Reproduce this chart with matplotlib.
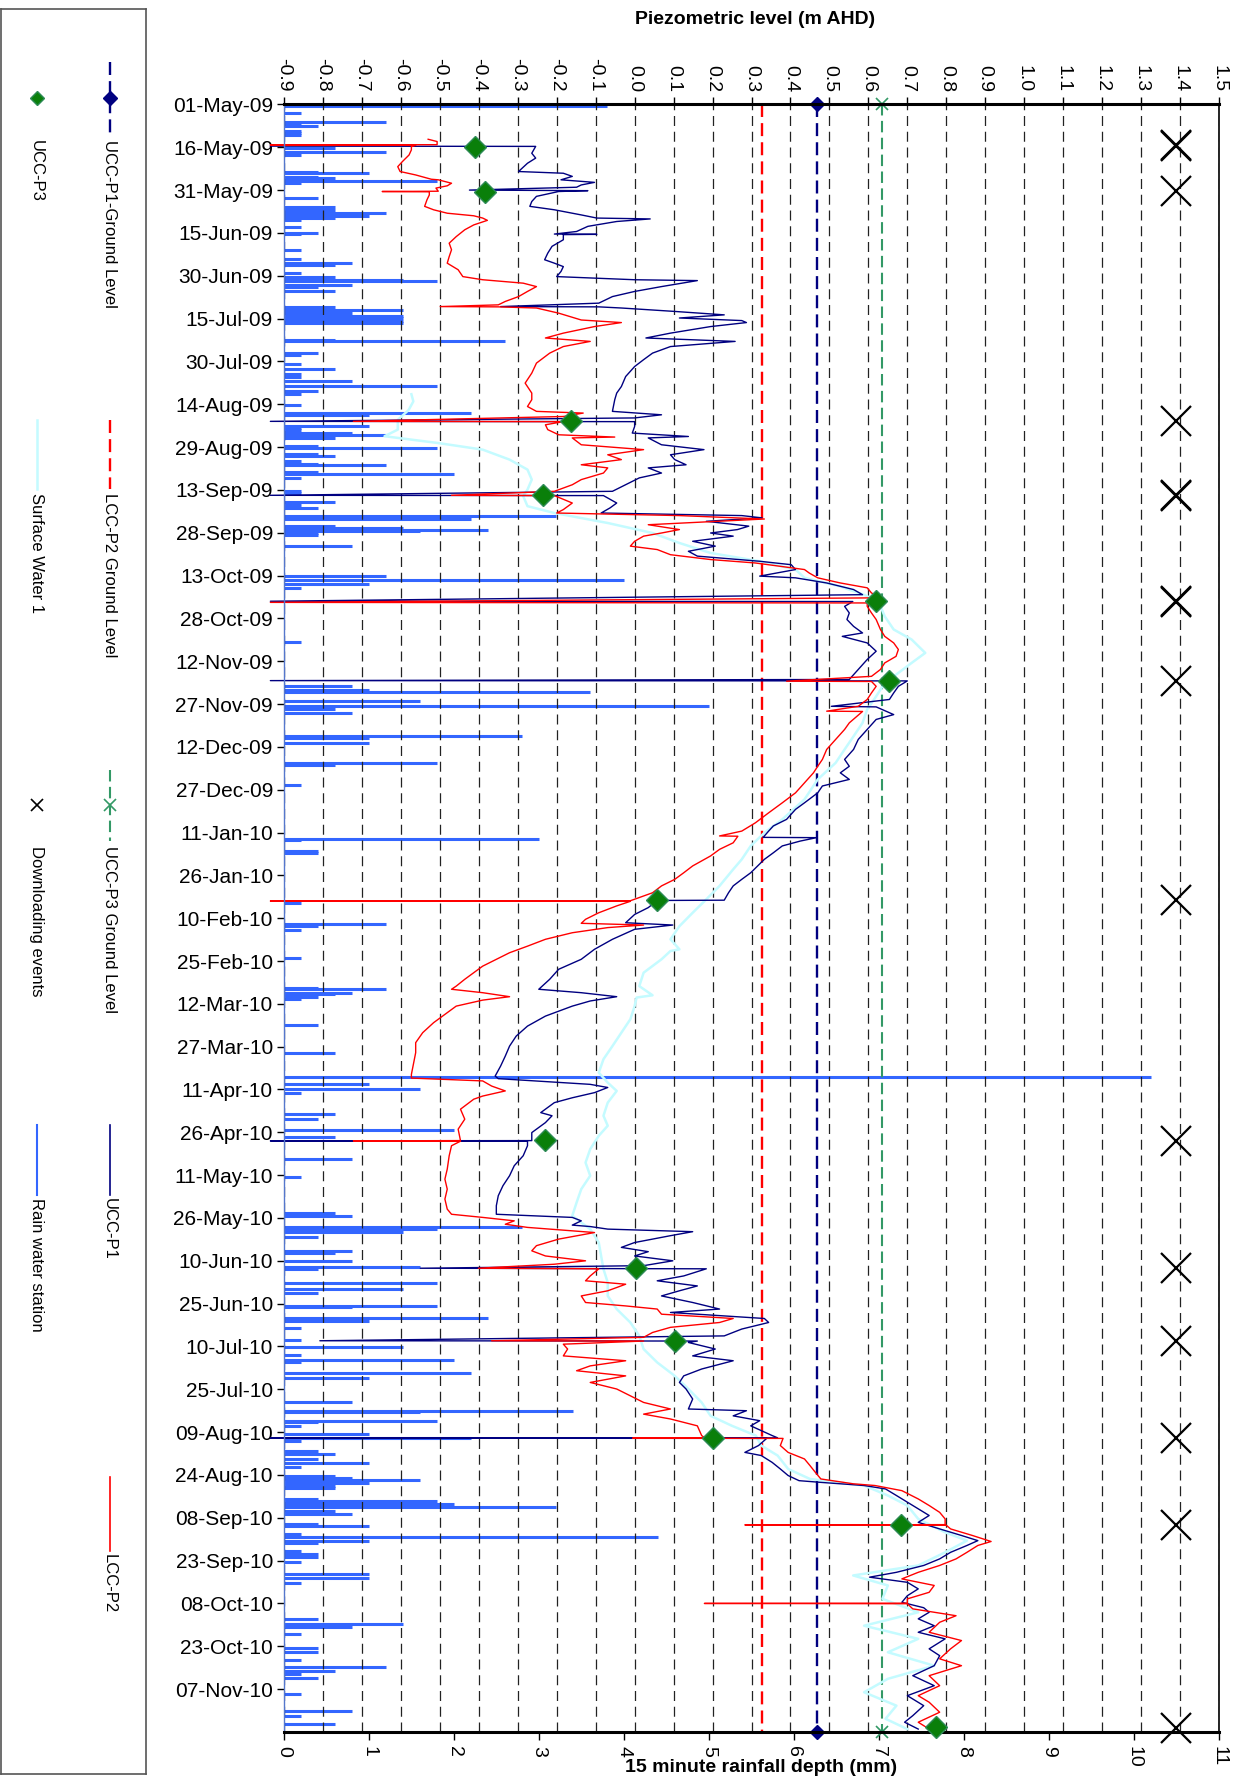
import datetime as dt

import matplotlib
matplotlib.use("Agg")
import matplotlib.pyplot as plt
import numpy as np

plt.rcParams['font.family'] = ['Liberation Sans', 'DejaVu Sans']
plt.rcParams['axes.unicode_minus'] = False

# time axis runs downwards, in days after 1 May 2009
START = dt.date(2009, 5, 1)
END_DAY = 570
TICK_STEP = 15

# ground levels (m AHD)
LCC_P2_GROUND = 0.327
UCC_P1_GROUND = 0.468
UCC_P3_GROUND = 0.636
EVENT_LEVEL = 1.39          # column where downloading events are marked

piezo_ticks = [i / 10 for i in range(-9, 16)]
rain_ticks = list(range(0, 12))

# (day, level m AHD)
ucc_p1 = [
    (14.6, -0.935), (14.7, -0.254), (17.1, -0.264), (18.8, -0.254), (20.6, -0.275), (23.5, -0.298),
    (24.1, -0.183), (25.2, -0.160), (26.4, -0.189), (27.3, -0.103), (28.2, -0.137), (29.0, -0.149),
    (30.0, -0.424), (30.2, -0.120), (30.5, -0.195), (32.2, -0.252), (34.0, -0.264), (35.7, -0.269),
    (36.9, -0.206), (38.7, -0.137), (39.8, -0.097), (40.1, 0.040), (41.0, -0.046), (42.7, -0.120),
    (44.5, -0.149), (45.4, -0.206), (45.5, -0.097), (45.6, -0.183), (47.4, -0.183), (49.7, -0.212),
    (52.1, -0.223), (54.4, -0.231), (55.6, -0.206), (56.8, -0.183), (58.5, -0.189), (60.3, -0.200),
    (61.4, 0.000), (61.7, 0.161), (63.8, 0.069), (65.5, 0.000), (67.3, -0.057), (69.6, -0.092),
    (70.8, -0.344), (70.9, -0.092), (71.3, -0.034), (72.5, 0.103), (73.7, 0.230), (74.8, 0.115),
    (75.7, 0.275), (76.4, 0.287), (77.8, 0.195), (80.1, 0.092), (81.8, 0.029), (83.0, 0.258),
    (84.8, 0.092), (87.1, 0.046), (89.4, 0.023), (91.8, 0.000), (95.3, -0.023), (98.8, -0.034),
    (101.1, -0.046), (103.4, -0.051), (107.5, -0.057), (108.7, 0.069), (109.8, 0.000), (111.0, -0.935),
    (111.1, 0.000), (112.8, 0.000), (115.1, -0.006), (116.3, 0.138), (116.8, 0.035), (119.2, 0.069),
    (120.9, 0.178), (122.7, 0.092), (124.4, 0.103), (126.2, 0.132), (127.3, 0.035), (129.1, 0.069),
    (130.8, 0.012), (133.2, -0.023), (135.5, -0.057), (136.9, -0.935), (137.0, -0.080), (139.6, -0.046),
    (141.3, -0.063), (143.1, -0.086), (144.0, 0.275), (144.8, 0.327), (146.0, 0.184), (147.7, 0.293),
    (148.9, 0.264), (150.1, 0.195), (151.2, 0.253), (153.0, 0.149), (154.7, 0.207), (156.5, 0.138),
    (158.2, 0.161), (160.0, 0.321), (161.2, 0.402), (162.9, 0.413), (165.2, 0.321), (165.8, 0.413),
    (167.6, 0.493), (169.9, 0.562), (171.7, 0.585), (174.0, -0.935), (174.1, 0.560), (175.8, 0.539),
    (178.1, 0.551), (180.4, 0.545), (182.8, 0.562), (185.1, 0.585), (186.3, 0.533), (188.6, 0.597),
    (191.5, 0.620), (194.4, 0.597), (197.9, 0.574), (201.4, 0.551), (201.8, -0.935), (201.9, 0.700),
    (203.8, 0.677), (206.1, 0.665), (208.4, 0.654), (210.8, 0.505), (211.0, 0.620), (213.7, 0.665),
    (215.4, 0.620), (218.9, 0.597), (222.4, 0.574), (225.9, 0.562), (229.4, 0.539), (231.8, 0.551),
    (234.1, 0.528), (236.4, 0.551), (238.7, 0.482), (241.1, 0.470), (244.6, 0.436), (246.9, 0.413),
    (250.4, 0.390), (252.7, 0.356), (254.5, 0.344), (256.7, 0.330), (256.8, 0.467), (258.0, 0.425),
    (259.7, 0.379), (262.1, 0.356), (264.4, 0.333), (266.7, 0.316), (269.1, 0.298), (271.4, 0.275),
    (273.7, 0.253), (276.1, 0.241), (278.7, 0.230), (278.8, 0.058), (281.3, 0.035), (283.7, 0.000),
    (286.6, -0.023), (287.4, 0.098), (288.9, 0.000), (292.4, -0.057), (295.9, -0.103), (299.4, -0.137),
    (302.9, -0.195), (306.4, -0.218), (309.9, -0.246), (311.1, -0.137), (312.5, -0.046), (314.0, -0.114),
    (315.8, -0.160), (319.3, -0.229), (322.8, -0.275), (326.3, -0.304), (329.8, -0.321), (333.3, -0.332),
    (336.8, -0.344), (340.3, -0.358), (341.2, -0.350), (343.2, -0.114), (344.3, -0.069), (346.1, -0.103),
    (347.9, -0.160), (349.6, -0.206), (353.1, -0.241), (354.2, -0.212), (356.6, -0.229), (360.1, -0.264),
    (362.9, -0.264), (363.0, -0.935), (363.1, -0.275), (364.7, -0.275), (368.2, -0.286), (371.7, -0.309),
    (375.2, -0.321), (378.7, -0.338), (382.2, -0.350), (385.7, -0.355), (388.7, -0.355), (389.8, -0.160),
    (391.0, -0.137), (392.5, -0.160), (393.0, -0.114), (393.9, -0.069), (394.8, 0.149), (396.2, 0.092),
    (398.6, 0.000), (400.3, -0.034), (401.8, 0.035), (403.3, 0.000), (405.0, 0.098), (406.7, 0.023),
    (407.6, -0.550), (407.8, 0.184), (410.3, 0.126), (412.0, 0.058), (413.8, 0.161), (415.5, 0.115),
    (417.3, 0.069), (419.6, 0.149), (421.9, 0.218), (423.1, 0.092), (425.2, 0.333), (426.6, 0.344),
    (428.9, 0.275), (431.3, 0.230), (433.0, -0.808), (433.1, 0.161), (433.6, 0.138), (435.9, 0.207),
    (438.3, 0.149), (440.0, 0.253), (442.9, 0.172), (445.3, 0.126), (447.6, 0.115), (449.9, 0.132),
    (453.4, 0.149), (456.9, 0.138), (457.5, 0.287), (459.3, 0.253), (461.0, 0.321), (462.8, 0.298),
    (466.2, 0.353), (467.0, 0.367), (467.1, -0.935), (467.2, 0.339), (469.7, 0.318), (472.1, 0.283),
    (473.2, 0.325), (475.6, 0.353), (477.9, 0.374), (480.2, 0.394), (482.0, 0.422), (482.6, 0.478),
    (483.7, 0.589), (484.9, 0.644), (487.2, 0.672), (490.7, 0.714), (494.2, 0.756), (496.6, 0.728),
    (498.9, 0.783), (501.2, 0.839), (503.0, 0.881), (504.7, 0.853), (507.1, 0.811), (509.4, 0.783),
    (511.7, 0.742), (514.1, 0.672), (515.8, 0.603), (517.6, 0.700), (519.9, 0.728), (522.3, 0.700),
    (524.6, 0.686), (526.5, 0.742), (528.1, 0.756), (530.4, 0.728), (532.8, 0.769), (535.1, 0.728),
    (537.4, 0.797), (540.9, 0.756), (543.3, 0.783), (546.8, 0.769), (550.3, 0.714), (553.8, 0.769),
    (557.3, 0.700), (560.8, 0.742), (564.3, 0.714), (566.6, 0.693), (569.0, 0.728),
]

lcc_p2 = [
    (12.2, -0.530), (13.0, -0.507), (14.1, -0.507), (14.2, -0.935), (14.3, -0.562), (14.8, -0.573),
    (15.9, -0.573), (17.7, -0.579), (20.0, -0.596), (21.8, -0.608), (23.5, -0.602), (24.7, -0.562),
    (26.2, -0.522), (26.4, -0.504), (27.6, -0.470), (28.5, -0.481), (29.3, -0.510), (30.4, -0.504),
    (30.5, -0.648), (30.6, -0.527), (31.7, -0.527), (33.4, -0.533), (35.7, -0.539), (36.9, -0.516),
    (38.1, -0.481), (39.0, -0.413), (39.8, -0.390), (40.6, -0.378), (42.2, -0.413), (43.9, -0.436),
    (46.3, -0.458), (48.6, -0.476), (50.9, -0.470), (53.3, -0.476), (55.6, -0.481), (57.9, -0.453),
    (60.3, -0.441), (61.4, -0.390), (62.6, -0.286), (63.8, -0.252), (65.5, -0.275), (67.3, -0.298),
    (69.0, -0.332), (70.2, -0.350), (70.8, -0.499), (70.9, -0.350), (71.3, -0.252), (73.1, -0.195),
    (75.5, -0.137), (76.4, -0.034), (77.8, -0.103), (80.1, -0.183), (81.8, -0.229), (83.0, -0.114),
    (84.8, -0.183), (87.1, -0.218), (90.6, -0.252), (94.1, -0.264), (97.6, -0.281), (101.1, -0.264),
    (103.4, -0.264), (105.8, -0.275), (107.5, -0.252), (108.1, -0.132), (109.3, -0.183), (111.0, -0.722),
    (111.1, -0.183), (112.2, -0.229), (113.9, -0.223), (115.7, -0.195), (116.5, -0.051), (116.8, -0.160),
    (119.2, -0.137), (120.9, 0.023), (122.7, -0.069), (124.4, -0.034), (126.2, -0.137), (127.3, -0.069),
    (129.1, -0.080), (131.4, -0.137), (133.2, -0.160), (135.5, -0.206), (136.9, -0.470), (137.0, -0.206),
    (139.6, -0.160), (141.9, -0.183), (143.1, -0.200), (144.0, 0.115), (145.2, 0.333), (147.2, 0.035),
    (148.9, 0.115), (150.1, 0.069), (151.2, 0.023), (153.0, 0.000), (154.7, -0.011), (155.9, 0.058),
    (157.7, 0.092), (159.4, 0.195), (160.6, 0.310), (162.9, 0.436), (164.1, 0.448), (165.8, 0.470),
    (167.6, 0.528), (169.3, 0.597), (171.1, 0.608), (172.8, 0.631), (174.4, -0.935), (174.6, 0.597),
    (175.8, 0.597), (178.1, 0.608), (180.4, 0.620), (183.9, 0.631), (186.3, 0.642), (188.6, 0.665),
    (190.9, 0.677), (193.3, 0.671), (195.6, 0.642), (197.9, 0.631), (200.3, 0.608), (202.0, 0.390),
    (202.1, 0.608), (203.8, 0.620), (206.1, 0.608), (208.4, 0.597), (210.8, 0.574), (212.5, 0.493),
    (212.6, 0.585), (216.6, 0.551), (218.9, 0.539), (222.4, 0.516), (225.9, 0.493), (229.4, 0.482),
    (231.8, 0.470), (234.1, 0.459), (237.6, 0.436), (241.1, 0.413), (244.6, 0.379), (248.1, 0.344),
    (251.6, 0.310), (254.5, 0.275), (256.2, 0.218), (256.3, 0.265), (258.6, 0.253), (260.9, 0.218),
    (263.2, 0.195), (266.7, 0.149), (269.1, 0.126), (271.4, 0.103), (273.7, 0.069), (276.1, 0.046),
    (278.9, -0.011), (279.0, -0.935), (279.1, -0.011), (280.7, -0.046), (283.1, -0.092), (285.4, -0.126),
    (286.8, -0.137), (287.4, 0.023), (288.3, -0.069), (290.1, -0.160), (292.4, -0.229), (294.8, -0.275),
    (297.1, -0.321), (299.4, -0.355), (301.8, -0.390), (304.1, -0.413), (306.4, -0.436), (308.8, -0.458),
    (309.9, -0.470), (311.1, -0.390), (312.5, -0.321), (313.7, -0.390), (315.8, -0.458), (318.1, -0.481),
    (321.6, -0.516), (325.1, -0.544), (328.6, -0.562), (332.1, -0.562), (335.6, -0.567), (339.7, -0.573),
    (341.0, -0.573), (342.0, -0.390), (343.8, -0.367), (345.5, -0.332), (347.3, -0.390), (348.4, -0.413),
    (351.9, -0.447), (355.4, -0.436), (358.9, -0.453), (362.9, -0.447), (363.0, -0.722), (363.1, -0.447),
    (364.7, -0.470), (368.2, -0.476), (372.9, -0.481), (376.4, -0.487), (379.9, -0.481), (383.4, -0.487),
    (386.9, -0.481), (388.7, -0.470), (389.8, -0.390), (391.0, -0.309), (392.2, -0.332), (393.3, -0.275),
    (395.1, -0.103), (397.4, -0.195), (399.7, -0.252), (401.5, -0.264), (403.3, -0.229), (405.0, -0.126),
    (406.2, -0.206), (407.6, -0.401), (407.8, -0.092), (410.3, -0.114), (412.0, -0.126), (413.2, -0.023),
    (415.5, -0.069), (417.3, -0.137), (419.6, -0.126), (420.8, -0.023), (421.9, 0.058), (423.7, 0.069),
    (425.2, 0.253), (426.6, 0.218), (428.3, 0.092), (430.1, 0.046), (431.8, 0.023), (433.0, -0.367),
    (433.1, 0.023), (434.2, -0.183), (435.9, -0.172), (438.3, -0.183), (440.0, -0.023), (441.8, -0.114),
    (443.5, -0.149), (445.3, -0.023), (447.6, -0.114), (449.9, -0.046), (452.3, -0.011), (454.6, 0.023),
    (456.9, 0.092), (458.7, 0.023), (460.4, 0.092), (462.8, 0.161), (466.2, 0.172), (467.0, 0.180),
    (467.1, -0.005), (467.2, 0.381), (469.7, 0.374), (472.1, 0.394), (474.4, 0.436), (476.7, 0.450),
    (479.1, 0.464), (481.4, 0.478), (483.1, 0.561), (483.7, 0.617), (485.5, 0.686), (488.4, 0.728),
    (490.7, 0.756), (493.1, 0.783), (495.4, 0.797), (497.4, 0.797), (497.5, 0.283), (497.6, 0.800),
    (498.9, 0.811), (501.2, 0.867), (503.3, 0.915), (504.7, 0.881), (507.1, 0.853), (509.4, 0.825),
    (511.7, 0.783), (514.1, 0.728), (516.4, 0.686), (518.7, 0.769), (521.1, 0.756), (523.4, 0.700),
    (524.9, 0.700), (525.0, 0.179), (525.1, 0.700), (526.9, 0.714), (529.3, 0.825), (531.6, 0.783),
    (535.1, 0.756), (538.0, 0.839), (540.9, 0.811), (544.4, 0.783), (546.8, 0.839), (550.3, 0.756),
    (553.8, 0.783), (557.3, 0.728), (559.6, 0.756), (563.1, 0.783), (566.6, 0.728), (569.0, 0.756),
]

surface_water = [
    (101.5, -0.573), (104.0, -0.568), (107.0, -0.580), (110.5, -0.608), (113.9, -0.608), (116.2, -0.642),
    (118.6, -0.504), (120.9, -0.390), (124.4, -0.321), (127.9, -0.275), (131.4, -0.264), (134.9, -0.275),
    (137.2, -0.286), (140.7, -0.275), (143.1, -0.206), (146.6, -0.069), (150.1, 0.046), (153.6, 0.115),
    (157.1, 0.195), (160.0, 0.321), (162.9, 0.413), (165.8, 0.436), (168.8, 0.528), (172.2, 0.597),
    (175.7, 0.631), (179.3, 0.642), (183.9, 0.665), (187.4, 0.711), (192.1, 0.746), (195.6, 0.711),
    (199.1, 0.677), (202.6, 0.642), (207.3, 0.620), (211.9, 0.597), (216.6, 0.585), (221.3, 0.562),
    (225.9, 0.539), (230.6, 0.516), (236.4, 0.470), (243.4, 0.436), (250.4, 0.379), (255.1, 0.333),
    (259.7, 0.298), (264.4, 0.275), (267.9, 0.253), (273.7, 0.218), (278.4, 0.184), (283.1, 0.149),
    (287.8, 0.115), (292.4, 0.092), (295.9, 0.115), (296.5, 0.092), (299.4, 0.069), (304.1, 0.023),
    (308.8, 0.012), (312.0, 0.046), (312.8, 0.005), (315.8, 0.000), (320.4, -0.011), (325.1, -0.034),
    (329.8, -0.057), (334.4, -0.080), (339.1, -0.092), (342.6, -0.069), (345.5, -0.046), (349.6, -0.069),
    (354.2, -0.080), (357.7, -0.069), (361.2, -0.092), (365.9, -0.114), (370.6, -0.126), (375.2, -0.114),
    (379.9, -0.137), (384.6, -0.149), (389.2, -0.160), (391.6, -0.137), (393.9, -0.114), (398.6, -0.092),
    (403.3, -0.086), (407.9, -0.080), (412.6, -0.069), (417.3, -0.069), (421.9, -0.046), (426.6, -0.011),
    (431.3, 0.012), (435.9, 0.023), (440.6, 0.058), (445.3, 0.103), (449.9, 0.138), (454.6, 0.172),
    (459.3, 0.195), (462.8, 0.250), (466.2, 0.311), (469.7, 0.325), (473.2, 0.367), (477.9, 0.394),
    (481.4, 0.450), (483.7, 0.589), (487.2, 0.650), (490.7, 0.700), (495.4, 0.728), (500.1, 0.797),
    (503.0, 0.853), (507.1, 0.797), (511.7, 0.728), (515.2, 0.561), (518.7, 0.650), (523.4, 0.636),
    (528.1, 0.728), (532.8, 0.589), (537.4, 0.728), (542.1, 0.650), (546.8, 0.769), (551.4, 0.650),
    (556.1, 0.589), (560.8, 0.672), (565.4, 0.644), (569.0, 0.700),
]

# manual UCC-P3 dips (day, level)
ucc_p3 = [
    (14.8, -0.409), (30.5, -0.384), (111.0, -0.163), (136.9, -0.235), (174.0, 0.620), (201.8, 0.654),
    (278.8, 0.058), (362.6, -0.229), (407.6, 0.003), (433.2, 0.103), (467.1, 0.200), (497.5, 0.683),
    (568.4, 0.774),
]

download_days = [14.2, 14.6, 30.2, 110.8, 136.7, 137.0, 174.0, 174.4, 202.0, 278.8, 362.9, 407.5,
                 433.0, 467.0, 497.4, 568.6]

# 15 minute rainfall (day, mm)
rain = [
    (0.5, 3.8), (2.9, 0.2), (6.0, 1.2), (6.6, 0.2), (7.5, 0.4), (9.2, 0.2), (9.9, 0.2), (10.7, 0.2),
    (15.3, 0.6), (16.5, 1.2), (17.7, 0.2), (23.5, 0.4), (24.1, 1.0), (25.3, 0.4), (25.8, 0.6),
    (26.8, 1.8), (27.4, 0.2), (32.6, 0.4), (36.0, 0.6), (36.9, 0.6), (37.9, 1.2), (38.3, 0.4),
    (39.0, 1.0), (39.9, 0.6), (40.4, 0.2), (43.1, 0.2), (44.9, 0.4), (45.3, 0.2), (50.9, 0.2),
    (54.2, 0.2), (55.4, 0.8), (56.2, 0.6), (58.9, 0.2), (60.6, 0.6), (61.4, 1.4), (61.8, 1.8),
    (63.2, 0.8), (64.1, 0.4), (65.5, 0.6), (71.0, 0.6), (71.9, 1.4), (73.1, 0.8), (74.0, 1.4),
    (74.9, 1.4), (75.4, 1.0), (76.0, 1.4), (76.6, 1.4), (82.4, 0.6), (83.0, 2.6), (87.1, 0.4),
    (87.7, 0.2), (90.9, 0.2), (92.5, 0.6), (94.4, 0.2), (95.3, 0.2), (96.7, 0.8), (98.6, 1.8),
    (100.5, 0.4), (101.3, 0.2), (105.2, 0.2), (108.1, 2.2), (108.7, 1.0), (112.6, 1.0), (113.4, 0.2),
    (114.0, 0.2), (115.1, 0.8), (115.7, 1.2), (116.9, 0.6), (119.7, 0.4), (120.3, 1.8), (122.3, 0.4),
    (123.2, 0.6), (125.0, 0.2), (125.9, 0.4), (126.4, 1.2), (128.8, 0.4), (129.4, 2.0), (130.8, 0.2),
    (135.5, 0.2), (136.1, 0.2), (139.2, 0.6), (140.2, 0.2), (141.3, 0.4), (144.0, 3.2), (144.8, 0.8),
    (145.2, 2.2), (147.5, 0.6), (148.3, 1.4), (148.9, 2.4), (149.5, 1.6), (150.1, 0.4), (150.7, 0.4),
    (154.7, 0.8), (165.2, 1.2), (166.4, 4.0), (167.9, 1.0), (169.3, 0.2), (188.4, 0.2), (203.8, 0.8),
    (205.2, 1.0), (205.9, 3.6), (209.0, 1.6), (210.8, 5.0), (211.7, 0.6), (213.3, 0.8), (221.3, 2.8),
    (221.8, 1.0), (223.6, 1.0), (230.6, 1.8), (231.2, 0.6), (238.2, 0.2), (257.1, 3.0), (257.6, 0.2),
    (261.5, 0.4), (262.1, 0.4), (279.6, 0.2), (287.2, 1.2), (287.8, 0.4), (289.2, 0.2), (299.1, 0.2),
    (309.3, 0.4), (309.9, 1.2), (311.1, 0.8), (311.7, 0.6), (312.5, 0.4), (313.2, 0.2), (322.5, 0.4),
    (332.1, 0.6), (340.6, 10.2), (343.2, 1.0), (344.9, 1.6), (346.1, 0.2), (353.7, 0.6), (355.2, 0.4),
    (359.1, 2.0), (361.6, 0.6), (369.2, 0.8), (375.5, 0.2), (388.3, 0.6), (389.2, 0.8), (393.0, 2.8),
    (393.9, 1.8), (394.8, 1.4), (396.5, 0.4), (401.5, 0.8), (402.3, 0.6), (405.0, 0.8), (407.3, 1.6),
    (407.9, 0.4), (412.6, 1.8), (414.7, 1.4), (416.3, 0.4), (420.8, 1.8), (421.3, 0.8), (425.1, 2.4),
    (426.2, 1.0), (428.6, 0.2), (432.7, 0.2), (435.3, 1.4), (437.9, 0.2), (439.7, 2.0), (440.4, 0.2),
    (444.4, 2.2), (446.2, 1.0), (454.6, 0.8), (457.5, 3.4), (457.9, 1.6), (461.0, 1.8), (461.6, 0.4),
    (463.0, 0.2), (465.7, 1.0), (467.1, 2.2), (468.0, 0.2), (471.5, 0.4), (472.7, 0.6), (474.4, 0.4),
    (475.8, 1.0), (477.3, 0.2), (480.2, 0.6), (481.2, 0.8), (481.8, 1.6), (482.9, 1.0), (483.7, 0.6),
    (484.6, 0.6), (488.4, 0.4), (489.0, 1.8), (490.2, 2.0), (491.3, 3.2), (492.5, 0.6), (493.7, 0.8),
    (497.2, 0.4), (498.0, 1.0), (500.7, 0.2), (501.8, 4.4), (503.0, 1.0), (503.8, 0.4), (506.5, 0.2),
    (507.7, 0.4), (508.8, 0.4), (510.6, 0.2), (514.7, 1.0), (516.2, 1.0), (517.8, 0.2), (530.4, 0.4),
    (532.2, 1.4), (533.3, 0.8), (535.7, 0.2), (540.7, 0.4), (542.1, 0.4), (544.7, 0.2), (547.3, 1.2),
    (548.5, 0.6), (549.7, 0.2), (551.2, 0.4), (556.7, 0.2), (562.5, 0.8), (564.3, 0.2), (567.2, 0.6),
]

NAVY = '#000080'
RED = '#ff0000'
CYAN = '#c4fbff'
RAIN = '#3366ff'
P3_GREEN = '#0a7f0a'
GL_GREEN = '#339966'
GRID_DASH = (0, (8, 4.6))
GL_DASH = (0, (5.5, 2.6))


def split(pairs):
    a = np.array(pairs, dtype=float)
    return a[:, 0], a[:, 1]


fig = plt.figure(figsize=(12.44, 17.82), dpi=100)
ax = fig.add_axes([0.2283, 0.0281, 0.7516, 0.9133])   # piezometric level, top scale
axr = ax.twiny()                                      # rainfall, bottom scale
ax.set_zorder(axr.get_zorder() + 1)
ax.patch.set_visible(False)

# rainfall bars
rd, rmm = split(rain)
axr.hlines(rd, 0, rmm, color=RAIN, lw=2.2)
axr.set_xlim(0, 11)
axr.set_xticks(rain_ticks)
axr.set_xticklabels([str(t) for t in rain_ticks])
axr.xaxis.set_ticks_position('bottom')
axr.tick_params(axis='x', labelrotation=-90, labelsize=14, length=6, width=1, pad=4)
for s in axr.spines.values():
    s.set_visible(False)

# piezometric scale and grid
ax.set_xlim(-0.9, 1.5)
ax.set_xticks(piezo_ticks)
ax.set_xticklabels([f'{v:.1f}' for v in piezo_ticks])
ax.xaxis.set_ticks_position('top')
ax.tick_params(axis='x', labelrotation=-90, labelsize=14, length=5, width=1, pad=4)
ax.grid(axis='x', color='#222222', lw=0.9, ls=GRID_DASH)

ax.set_ylim(END_DAY, 0)
tick_days = list(range(0, END_DAY - 10, TICK_STEP))
ax.set_yticks(tick_days)
ax.set_yticklabels([(START + dt.timedelta(days=d)).strftime('%d-%b-%y') for d in tick_days])
ax.tick_params(axis='y', labelsize=15, length=5, width=1, pad=3)

ax.spines['top'].set_linewidth(2.2)
ax.spines['bottom'].set_linewidth(2.2)
ax.spines['right'].set_linewidth(1.2)
ax.spines['left'].set_linewidth(1.0)
ax.spines['left'].set_color('#5577cc')

# ground levels
ax.plot([LCC_P2_GROUND] * 2, [0, END_DAY], color=RED, lw=1.7, ls=GL_DASH, clip_on=False)
ax.plot([UCC_P1_GROUND] * 2, [0, END_DAY], color=NAVY, lw=1.7, ls=GL_DASH,
        marker='D', ms=7, clip_on=False)
ax.plot([UCC_P3_GROUND] * 2, [0, END_DAY], color=GL_GREEN, lw=1.5, ls=GL_DASH,
        marker='x', ms=9, mew=1.2, clip_on=False)

# logger series
d, v = split(surface_water)
ax.plot(v, d, color=CYAN, lw=1.8, clip_on=False)
d, v = split(ucc_p1)
ax.plot(v, d, color=NAVY, lw=1.0, clip_on=False)
d, v = split(lcc_p2)
ax.plot(v, d, color=RED, lw=1.0, clip_on=False)

d, v = split(ucc_p3)
ax.plot(v, d, ls='none', marker='D', ms=11, color=P3_GREEN, mec='#2e8b57', mew=1.0,
        clip_on=False, zorder=5)
ax.plot([EVENT_LEVEL] * len(download_days), download_days, ls='none', marker='x',
        ms=22, mew=1.6, color='black', clip_on=False, zorder=5)

fig.text(755 / 1244, 1 - 20 / 1782, 'Piezometric level (m AHD)', ha='center', va='center',
         fontsize=14, fontweight='bold')
fig.text(761 / 1244, 1 - 1767 / 1782, '15 minute rainfall depth (mm)', ha='center', va='center',
         fontsize=14, fontweight='bold')

# legend panel, drawn in pixel units measured from the top
lax = fig.add_axes([0.5 / 1244, 8 / 1782, 145 / 1244, 1765 / 1782])
lax.set_xlim(0, 145)
lax.set_ylim(1774, 9)
lax.set_xticks([])
lax.set_yticks([])
for s in lax.spines.values():
    s.set_color('#555555')
    s.set_linewidth(1.2)

col_l, col_r = 36, 109
rows = [(62, 134), (420, 489), (770, 841), (1125, 1195), (1477, 1551)]


def legend_text(x, y, label):
    lax.text(x, y, label, rotation=-90, ha='center', va='top', fontsize=12)


y0, y1 = rows[0]
lax.plot([col_r, col_r], [y0, y1], color=NAVY, lw=1.7, ls=GL_DASH)
lax.plot(col_r, (y0 + y1) / 2, marker='D', ms=7, color=NAVY)
legend_text(col_r, y1 + 6, 'UCC-P1-Ground Level')
lax.plot(col_l, (y0 + y1) / 2, marker='D', ms=7, color=P3_GREEN, mec='#2e8b57')
legend_text(col_l, y1 + 6, 'UCC-P3')

y0, y1 = rows[1]
lax.plot([col_r, col_r], [y0, y1], color=RED, lw=1.7, ls=GL_DASH)
legend_text(col_r, y1 + 4, 'LCC-P2 Ground Level')
lax.plot([col_l, col_l], [y0, y1], color=CYAN, lw=1.8)
legend_text(col_l, y1 + 4, 'Surface Water 1')

y0, y1 = rows[2]
lax.plot([col_r, col_r], [y0, y1], color=GL_GREEN, lw=1.5, ls=GL_DASH)
lax.plot(col_r, (y0 + y1) / 2, marker='x', ms=9, mew=1.2, color=GL_GREEN)
legend_text(col_r, y1 + 5, 'UCC-P3 Ground Level')
lax.plot(col_l, (y0 + y1) / 2, marker='x', ms=9, mew=1.2, color='black')
legend_text(col_l, y1 + 5, 'Downloading events')

y0, y1 = rows[3]
lax.plot([col_r, col_r], [y0, y1], color=NAVY, lw=1.2)
legend_text(col_r, y1 + 3, 'UCC-P1')
lax.plot([col_l, col_l], [y0, y1], color=RAIN, lw=1.5)
legend_text(col_l, y1 + 3, 'Rain water station')

y0, y1 = rows[4]
lax.plot([col_r, col_r], [y0, y1], color=RED, lw=1.2)
legend_text(col_r, y1 + 3, 'LCC-P2')

fig.savefig('out.png', dpi=100)
